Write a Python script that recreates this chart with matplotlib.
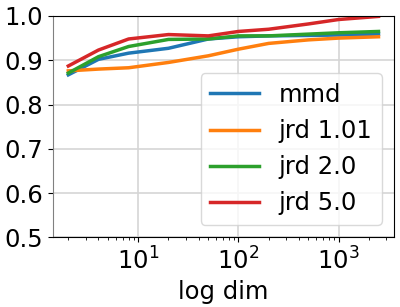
import matplotlib
matplotlib.use("Agg")
import matplotlib.pyplot as plt

dims = [2, 4, 8, 20, 50, 100, 200, 500, 1000, 2500]
mmd = [0.867, 0.902, 0.916, 0.927, 0.948, 0.953, 0.955, 0.956, 0.957, 0.959]
jrd_101 = [0.876, 0.880, 0.883, 0.895, 0.910, 0.925, 0.938, 0.946, 0.950, 0.953]
jrd_20 = [0.871, 0.908, 0.931, 0.947, 0.948, 0.955, 0.955, 0.959, 0.962, 0.965]
jrd_50 = [0.887, 0.923, 0.948, 0.958, 0.955, 0.965, 0.970, 0.982, 0.992, 0.999]

labels = ["mmd", "jrd 1.01", "jrd 2.0", "jrd 5.0"]
colors = ["#1f77b4", "#ff7f0e", "#2ca02c", "#d62728"]
series = [mmd, jrd_101, jrd_20, jrd_50]

fs = 17.5
fig = plt.figure(figsize=(4.0, 3.07), dpi=100)
ax = fig.add_axes([0.132, 0.227, 0.853, 0.721])
for y, lab, c in zip(series, labels, colors):
    ax.plot(dims, y, color=c, lw=2.5, label=lab)
ax.set_xscale("log")
ax.set_ylim(0.5, 1.0)
ax.set_yticks([0.5, 0.6, 0.7, 0.8, 0.9, 1.0])
ax.grid(True, which="major", color="#d5d5d5", lw=1.2)
ax.set_axisbelow(True)
ax.tick_params(labelsize=fs)
ax.spines["left"].set_color("#808080")
ax.set_xlabel("log dim", fontsize=fs)
leg = ax.legend(loc="lower right", fontsize=fs, framealpha=0.8, edgecolor="#d0d0d0")
fig.savefig("out.png", dpi=100)
